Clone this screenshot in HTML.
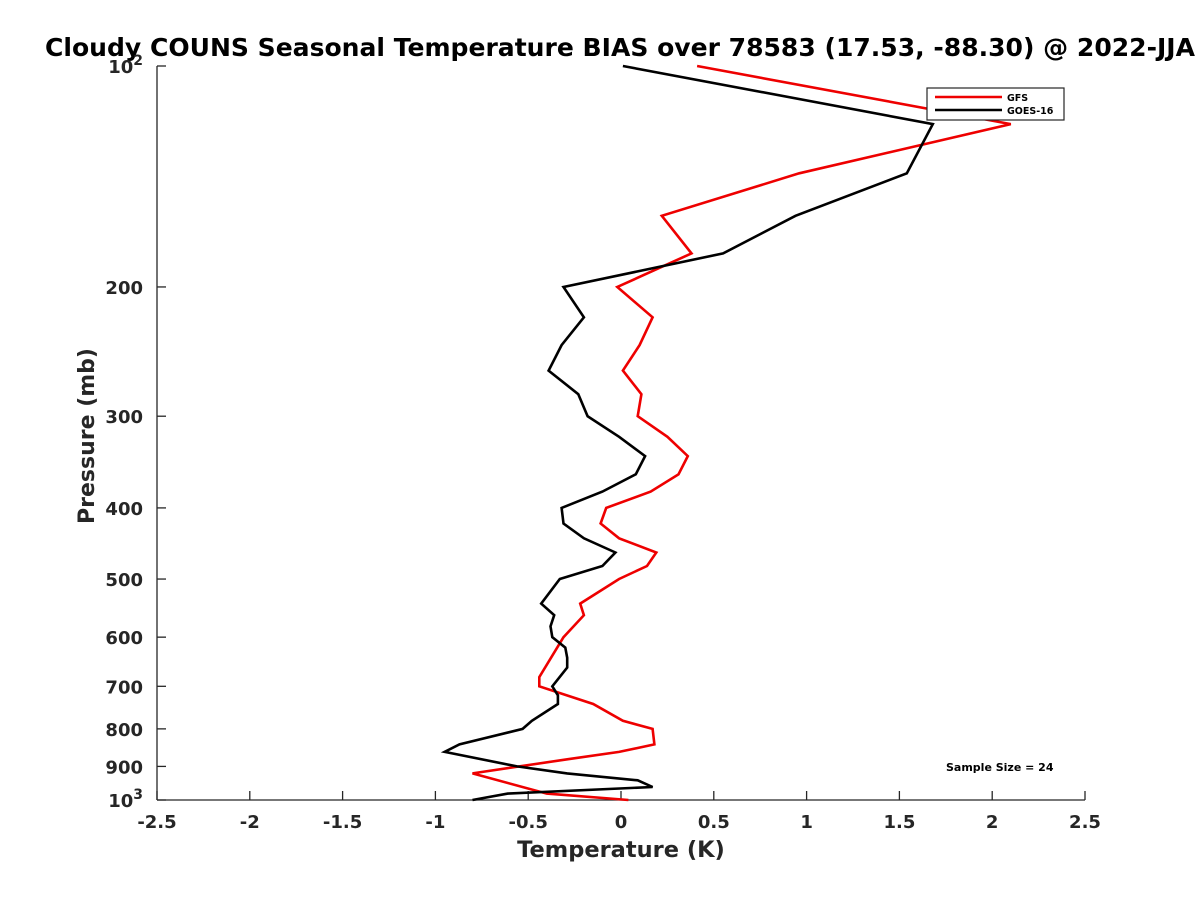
<!DOCTYPE html>
<html><head><meta charset="utf-8"><style>
html,body{margin:0;padding:0;background:#fff;}
svg{display:block;font-family:"DejaVu Sans","Liberation Sans",sans-serif;}
</style></head><body>
<svg id="chart" width="1200" height="900" xmlns="http://www.w3.org/2000/svg">
<rect width="1200" height="900" fill="#fff"/>
<text x="620" y="56" text-anchor="middle" font-size="25" font-weight="bold" fill="#000" textLength="1150" lengthAdjust="spacingAndGlyphs">Cloudy COUNS Seasonal Temperature BIAS over 78583 (17.53, -88.30) @ 2022-JJA</text>
<g id="axes"></g>
<g id="series"></g>
<text x="621" y="857" text-anchor="middle" font-size="22.5" font-weight="bold" fill="#262626">Temperature (K)</text>
<text x="0" y="0" transform="translate(94,436) rotate(-90)" text-anchor="middle" font-size="22" font-weight="bold" fill="#262626">Pressure (mb)</text>
<g>
<rect x="927" y="88" width="137" height="32" fill="#fff" stroke="#262626" stroke-width="1.2"/>
<line x1="935" y1="97" x2="1002" y2="97" stroke="#e00" stroke-width="2.5"/>
<text x="1007" y="101" font-size="9.5" font-weight="bold">GFS</text>
<line x1="935" y1="110" x2="1002" y2="110" stroke="#000" stroke-width="2.5"/>
<text x="1007" y="114" font-size="9.5" font-weight="bold">GOES-16</text>
</g>
<text x="946" y="771" font-size="11" font-weight="bold">Sample Size = 24</text>
</svg>
<script>
const gfsP = [100,120,140,160,180,200,220,240,260,280,300,320,340,360,380,400,420,440,460,480,500,540,560,600,680,700,740,780,800,840,860,880,920,980,1000];
const gfsT = [0.41,2.10,0.96,0.22,0.38,-0.02,0.17,0.10,0.01,0.11,0.09,0.25,0.36,0.31,0.16,-0.08,-0.11,-0.01,0.19,0.14,-0.01,-0.22,-0.20,-0.31,-0.44,-0.44,-0.15,0.01,0.17,0.18,-0.01,-0.29,-0.80,-0.40,0.04];
const goesP = [100,120,140,160,180,200,220,240,260,280,300,320,340,360,380,400,420,440,460,480,500,540,560,580,600,620,640,660,700,720,740,780,800,840,860,900,920,940,960,980,1000];
const goesT = [0.01,1.68,1.54,0.94,0.55,-0.31,-0.20,-0.32,-0.39,-0.23,-0.18,-0.01,0.13,0.08,-0.10,-0.32,-0.31,-0.20,-0.03,-0.10,-0.33,-0.43,-0.36,-0.38,-0.37,-0.30,-0.29,-0.29,-0.37,-0.34,-0.34,-0.48,-0.53,-0.87,-0.95,-0.56,-0.29,0.09,0.17,-0.61,-0.80];
const xTicks = [-2.5,-2,-1.5,-1,-0.5,0,0.5,1,1.5,2,2.5];
const yTicks = [100,200,300,400,500,600,700,800,900,1000];
const yTickLabels = ["10²","200","300","400","500","600","700","800","900","10³"];

const X0=157,X1=1085,Y0=66,Y1=800;
function xs(t){return X0+(t+2.5)/5*(X1-X0);}
function ys(p){return Y0+(Math.log10(p)-2)*(Y1-Y0);}
const NS="http://www.w3.org/2000/svg";
function mk(tag,attrs,parent){const e=document.createElementNS(NS,tag);for(const k in attrs)e.setAttribute(k,attrs[k]);parent.appendChild(e);return e;}
const axes=document.getElementById('axes');
const yAxis=mk('line',{x1:X0,y1:Y0,x2:X0,y2:Y1,stroke:'#262626','stroke-width':1.3},axes);


const xAxis=mk('line',{x1:X0,y1:Y1,x2:X1,y2:Y1,stroke:'#262626','stroke-width':1.3},axes);


xTicks.forEach(t=>{
  const x=xs(t);
  const tk=mk('line',{x1:x,y1:Y1,x2:x,y2:Y1-9,stroke:'#262626','stroke-width':1.3},axes);
  
  
  const lb=mk('text',{x:x,y:Y1+28,'text-anchor':'middle','font-size':18,'font-weight':'bold',fill:'#262626'},axes);
  lb.textContent=String(t);
  
  
});
yTicks.forEach((p,i)=>{
  const y=ys(p);
  const tk=mk('line',{x1:X0,y1:y,x2:X0+9,y2:y,stroke:'#262626','stroke-width':1.3},axes);
  
  
  const lb=mk('text',{x:X0-14,y:y+7,'text-anchor':'end','font-size':18,'font-weight':'bold',fill:'#262626'},axes);
  const s=yTickLabels[i];
  if(s.length===3 && (s[2]==='²'||s[2]==='³')){
    lb.textContent='10';
    const sup=mk('tspan',{dy:-8,'font-size':14},lb);
    sup.textContent=s[2]==='²'?'2':'3';
  } else lb.textContent=s;
  
  
});
const ser=document.getElementById('series');
function line(P,T,color,name){
  const pts=P.map((p,i)=>xs(T[i]).toFixed(1)+','+ys(p).toFixed(1)).join(' ');
  const pl=mk('polyline',{points:pts,fill:'none',stroke:color,'stroke-width':2.6,'stroke-linejoin':'miter'},ser);
  
  
}
line(gfsP,gfsT,'#e00','gfs-line');
line(goesP,goesT,'#000','goes16-line');
</script>
</body></html>
